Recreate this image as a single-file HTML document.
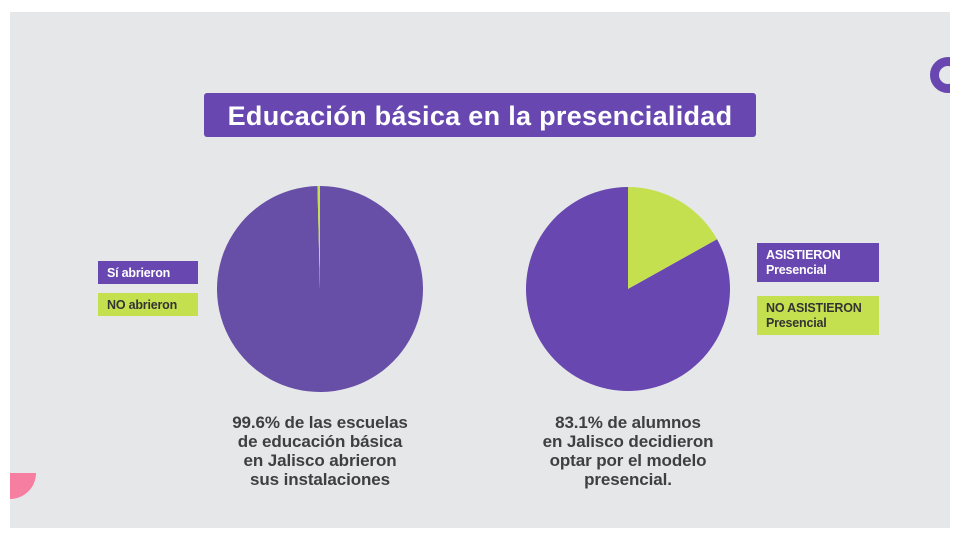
<!DOCTYPE html>
<html><head><meta charset="utf-8"><style>
body{margin:0;width:960px;height:540px;background:#fff;position:relative;overflow:hidden;font-family:"Liberation Sans",sans-serif}
#panel{position:absolute;left:10px;top:12px;width:940px;height:516px;background:#e6e7e9;overflow:hidden}
.t{position:absolute;font-weight:bold}
.leg{position:absolute;font-size:12.5px;font-weight:bold;box-sizing:border-box;padding-left:9px;line-height:15px;letter-spacing:-0.2px}
.cap{position:absolute;width:260px;text-align:center;font-size:17px;font-weight:bold;color:#3f3f3f;line-height:19px;letter-spacing:-0.1px}
</style></head><body>
<div id="panel">
<div style="position:absolute;left:920px;top:45px;width:18px;height:18px;border:9px solid #6847b0;border-radius:50%"></div>
<div style="position:absolute;left:-26px;top:435px;width:52px;height:52px;border-radius:50%;background:#f67ea0;clip-path:inset(26px 0 0 0)"></div>
</div>
<div class="t" style="left:204px;top:93px;width:552px;height:44px;background:#6847b0;border-radius:3px;color:#fff;font-size:27px;line-height:46px;text-align:center;letter-spacing:0.3px">Educación básica en la presencialidad</div>
<svg id="pies" width="960" height="540" style="position:absolute;left:0;top:0"></svg>
<div class="leg" style="left:98px;top:261px;width:100px;height:23px;background:#6847b0;color:#fff;line-height:24px">Sí abrieron</div>
<div class="leg" style="left:98px;top:293px;width:100px;height:23px;background:#c5e04f;color:#333;line-height:24px">NO abrieron</div>
<div class="leg" style="left:757px;top:243px;width:122px;height:39px;background:#6847b0;color:#fff;padding-top:5px">ASISTIERON<br>Presencial</div>
<div class="leg" style="left:757px;top:296px;width:122px;height:39px;background:#c5e04f;color:#333;padding-top:5px">NO ASISTIERON<br>Presencial</div>
<div class="cap" style="left:190px;top:413px">99.6% de las escuelas<br>de educación básica<br>en Jalisco abrieron<br>sus instalaciones</div>
<div class="cap" style="left:498px;top:413px">83.1% de alumnos<br>en Jalisco decidieron<br>optar por el modelo<br>presencial.</div>
<script>
const schoolsValues=[99.6,0.4];
const studentsValues=[83.1,16.9];
const svg=document.getElementById('pies');
const NS='http://www.w3.org/2000/svg';
function pt(cx,cy,r,a){return [cx+r*Math.sin(a),cy-r*Math.cos(a)];}
function slice(cx,cy,r,a0,a1,color,name){
  const p=document.createElementNS(NS,'path');
  const s=pt(cx,cy,r,a0),e=pt(cx,cy,r,a1);
  const large=(a1-a0)>Math.PI?1:0;
  p.setAttribute('d',`M${cx},${cy}L${s[0]},${s[1]}A${r},${r} 0 ${large} 1 ${e[0]},${e[1]}Z`);
  p.setAttribute('fill',color);
  
  
  svg.appendChild(p);
}
(function(){
  const tot=schoolsValues[0]+schoolsValues[1];
  const g=schoolsValues[1]/tot*2*Math.PI;
  slice(320,289,103,0,2*Math.PI-g-0.0001,'#674ea7','slice-si-abrieron');
  slice(320,289,103,2*Math.PI-g,2*Math.PI,'#c5e04f','slice-no-abrieron');
})();
(function(){
  const tot=studentsValues[0]+studentsValues[1];
  const g=studentsValues[1]/tot*2*Math.PI;
  slice(628,289,102,0,g,'#c5e04f','slice-no-asistieron');
  slice(628,289,102,g,2*Math.PI-0.0001,'#6847b0','slice-asistieron');
})();
</script>
</body></html>
